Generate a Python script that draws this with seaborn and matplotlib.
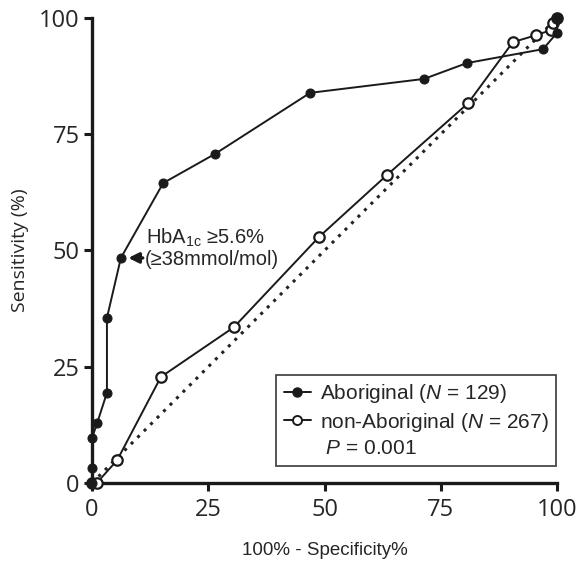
import numpy as np
import pandas as pd
import matplotlib
matplotlib.use('Agg')
import matplotlib.pyplot as plt
import seaborn as sns
from matplotlib.lines import Line2D

# ROC points (100% - specificity, sensitivity)
abo_fpr = [0, 0, 0, 1.1, 3.2, 3.2, 6.2, 15.3, 26.5, 46.9, 71.4, 80.6, 97.0, 100, 100]
abo_sens = [0, 3.2, 9.7, 12.9, 19.4, 35.5, 48.4, 64.5, 70.8, 83.9, 86.9, 90.3, 93.3, 96.8, 100]
non_fpr = [0, 1.0, 5.4, 14.8, 30.5, 48.8, 63.4, 80.9, 90.5, 95.5, 98.7, 99.2, 100]
non_sens = [0, 0, 4.9, 22.8, 33.5, 52.9, 66.2, 81.7, 94.8, 96.3, 97.4, 99.0, 100]
ref_line = [0, 100]
ticks = [0, 25, 50, 75, 100]

abo = pd.DataFrame({'fpr': abo_fpr, 'sens': abo_sens})
non = pd.DataFrame({'fpr': non_fpr, 'sens': non_sens})

sns.set_style('ticks')
plt.rcParams['font.family'] = ['Liberation Sans', 'DejaVu Sans']
plt.rcParams['mathtext.fontset'] = 'custom'
plt.rcParams['mathtext.rm'] = 'Liberation Sans'
plt.rcParams['mathtext.it'] = 'Liberation Sans:italic'

fig = plt.figure(figsize=(5.79, 5.62), dpi=100)
ax = fig.add_axes([0.159, 0.1406, 0.803, 0.8274])

sns.lineplot(x=ref_line, y=ref_line, ax=ax, color='#222222', lw=2.2,
             linestyle=(0, (1, 2)), estimator=None, sort=False)
sns.lineplot(data=non, x='fpr', y='sens', ax=ax, estimator=None, sort=False,
             color='#1a1a1a', lw=1.4, marker='o', markersize=7.5,
             markerfacecolor='white', markeredgecolor='#1a1a1a',
             markeredgewidth=1.6, clip_on=False, zorder=3)
sns.lineplot(data=abo, x='fpr', y='sens', ax=ax, estimator=None, sort=False,
             color='#1a1a1a', lw=1.4, marker='o', markersize=6.5,
             markerfacecolor='#1a1a1a', markeredgecolor='#1a1a1a',
             clip_on=False, zorder=4)

ax.set_xlim(0, 100)
ax.set_ylim(0, 100)
ax.set_xticks(ticks)
ax.set_yticks(ticks)
ax.set_xticklabels([str(t) for t in ticks], family='Open Sans', fontsize=17)
ax.set_yticklabels([str(t) for t in ticks], family='Open Sans', fontsize=17)
ax.tick_params(length=6, width=2.2, color='#1a1a1a', pad=3)
ax.tick_params(axis='x', pad=5)
for side in ['left', 'bottom']:
    ax.spines[side].set_linewidth(2.4)
    ax.spines[side].set_color('#1a1a1a')
sns.despine(ax=ax)

ax.set_xlabel('100% - Specificity%', fontsize=13.5, labelpad=14)
ax.set_ylabel('Sensitivity (%)', family='Open Sans', fontsize=14, labelpad=7)

# cut-off annotation
ax.annotate('', xy=(abo_fpr[6] + 1.0, abo_sens[6]), xytext=(abo_fpr[6] + 5.3, abo_sens[6]),
            arrowprops=dict(arrowstyle='-|>,head_length=0.6,head_width=0.3',
                            color='#1a1a1a', lw=2.4))
ax.text(11.6, 50.3, r'HbA$_{\mathregular{1c}}$ ≥5.6%', fontsize=14.5, va='bottom', ha='left')
ax.text(11.4, 50.1, '(≥38mmol/mol)', fontsize=14.5, va='top', ha='left')

handles = [
    Line2D([], [], color='#1a1a1a', lw=1.4, marker='o', markersize=6.5,
           markerfacecolor='#1a1a1a'),
    Line2D([], [], color='#1a1a1a', lw=1.4, marker='o', markersize=6.5,
           markerfacecolor='white', markeredgewidth=1.4),
    Line2D([], [], color='none'),
]
labels = [r'Aboriginal ($\mathit{N}$ = 129)', r'non-Aboriginal ($\mathit{N}$ = 267)',
          r' $\mathit{P}$ = 0.001']
leg = ax.legend(handles, labels, loc='lower right', bbox_to_anchor=(0.998, 0.037),
                fontsize=15, frameon=True, fancybox=False, handlelength=1.3,
                handletextpad=0.45, labelspacing=0.28, borderpad=0.35, borderaxespad=0)
leg.get_frame().set_edgecolor('#1a1a1a')
leg.get_frame().set_linewidth(1.3)

fig.savefig('out.png', dpi=100)
